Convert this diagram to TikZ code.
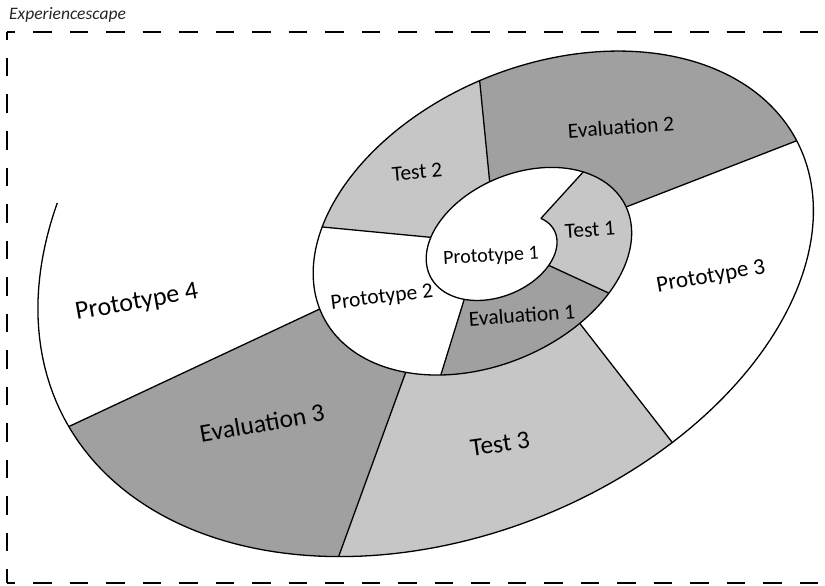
\documentclass[tikz,border=0pt]{standalone}
\usepackage{fontspec}
\setmainfont{Carlito}
\definecolor{testgray}{RGB}{198,198,198}
\definecolor{evalgray}{RGB}{160,160,160}
\begin{document}
\begin{tikzpicture}[x=1pt, y=-1pt, line join=round, samples=80,
    declare function={
      growth(\s)=exp(0.0024784*\s);
      spx(\s)=505+growth(\s)*(50.75*cos(\s)+0.75);
      spy(\s)=248.5+growth(\s)*(-11.7*cos(\s)+37.7*sin(\s));
    },
    spiral/.style={line width=1.3pt},
    frame/.style={line width=1.4pt, dash pattern=on 18.5pt off 18pt, dash phase=10.5pt},
    inner label/.style={font=\fontsize{21.5}{24}\selectfont, inner sep=0pt},
    outer label/.style={font=\fontsize{25.5}{28}\selectfont, inner sep=0pt}]
    \useasboundingbox (0,0) rectangle (825,586);

    % dashed frame of the experiencescape
    \coordinate (tl) at (7,32);
    \coordinate (tr) at (825,32);
    \coordinate (bl) at (7,583);
    \coordinate (br) at (825,583);
    \draw[frame] (tl) -- (tr);
    \draw[frame] (bl) -- (br);
    \draw[frame] (tl) -- (bl);
    \node[anchor=west, inner sep=0pt, text=black!85, font=\itshape\fontsize{17.5}{20}\selectfont] (title) at (9,15) {Experiencescape};

    % shaded phases: inner turn -- outer turn
    \fill[testgray] plot[domain=-40:40] ({spx(\x)},{spy(\x)}) -- plot[domain=402:314] ({spx(\x)},{spy(\x)}) -- cycle;
    \fill[evalgray] plot[domain=40:127] ({spx(\x)},{spy(\x)}) -- plot[domain=474:402] ({spx(\x)},{spy(\x)}) -- cycle;
    \fill[testgray] plot[domain=207:260] ({spx(\x)},{spy(\x)}) -- plot[domain=623:565] ({spx(\x)},{spy(\x)}) -- cycle;
    \fill[evalgray] plot[domain=260:351] ({spx(\x)},{spy(\x)}) -- plot[domain=709:623] ({spx(\x)},{spy(\x)}) -- cycle;
    \fill[testgray] plot[domain=419.5:487] ({spx(\x)},{spy(\x)}) -- plot[domain=835.5:782.5] ({spx(\x)},{spy(\x)}) -- cycle;
    \fill[evalgray] plot[domain=487:533] ({spx(\x)},{spy(\x)}) -- plot[domain=887:835.5] ({spx(\x)},{spy(\x)}) -- cycle;

    % the spiral
    \draw[spiral] plot[domain=-40:924, samples=600] ({spx(\x)},{spy(\x)});

    % phase borders
    \coordinate (ain) at ({spx(-40)},{spy(-40)});
    \coordinate (aout) at ({spx(314)},{spy(314)});
    \coordinate (bin) at ({spx(40)},{spy(40)});
    \coordinate (bout) at ({spx(402)},{spy(402)});
    \coordinate (cin) at ({spx(127)},{spy(127)});
    \coordinate (cout) at ({spx(474)},{spy(474)});
    \coordinate (din) at ({spx(207)},{spy(207)});
    \coordinate (dout) at ({spx(565)},{spy(565)});
    \coordinate (ein) at ({spx(260)},{spy(260)});
    \coordinate (eout) at ({spx(623)},{spy(623)});
    \coordinate (fin) at ({spx(351)},{spy(351)});
    \coordinate (fout) at ({spx(709)},{spy(709)});
    \coordinate (gin) at ({spx(419.5)},{spy(419.5)});
    \coordinate (gout) at ({spx(782.5)},{spy(782.5)});
    \coordinate (hin) at ({spx(487)},{spy(487)});
    \coordinate (hout) at ({spx(835.5)},{spy(835.5)});
    \coordinate (iin) at ({spx(533)},{spy(533)});
    \coordinate (iout) at ({spx(887)},{spy(887)});
    \draw[spiral] (ain) -- (aout);
    \draw[spiral] (bin) -- (bout);
    \draw[spiral] (cin) -- (cout);
    \draw[spiral] (din) -- (dout);
    \draw[spiral] (ein) -- (eout);
    \draw[spiral] (fin) -- (fout);
    \draw[spiral] (gin) -- (gout);
    \draw[spiral] (hin) -- (hout);
    \draw[spiral] (iin) -- (iout);

    % labels
    \node[inner label, font=\fontsize{20}{23}\selectfont, rotate=3] (proto1) at (491,257) {Prototype 1};
    \node[inner label, rotate=4] (test1) at (590,230) {Test 1};
    \node[inner label, rotate=4] (eval1) at (522,315) {Evaluation 1};
    \node[inner label, rotate=7] (proto2) at (382,298) {Prototype 2};
    \node[inner label, rotate=5] (test2) at (417,172) {Test 2};
    \node[inner label, rotate=4] (eval2) at (621,127) {Evaluation 2};
    \node[outer label, font=\fontsize{23}{26}\selectfont, rotate=10] (proto3) at (711,277) {Prototype 3};
    \node[outer label, rotate=8] (test3) at (500,444) {Test 3};
    \node[outer label, rotate=10] (eval3) at (262,423) {Evaluation 3};
    \node[outer label, font=\fontsize{26}{29}\selectfont, rotate=10] (proto4) at (137,303) {Prototype 4};
\end{tikzpicture}
\end{document}
